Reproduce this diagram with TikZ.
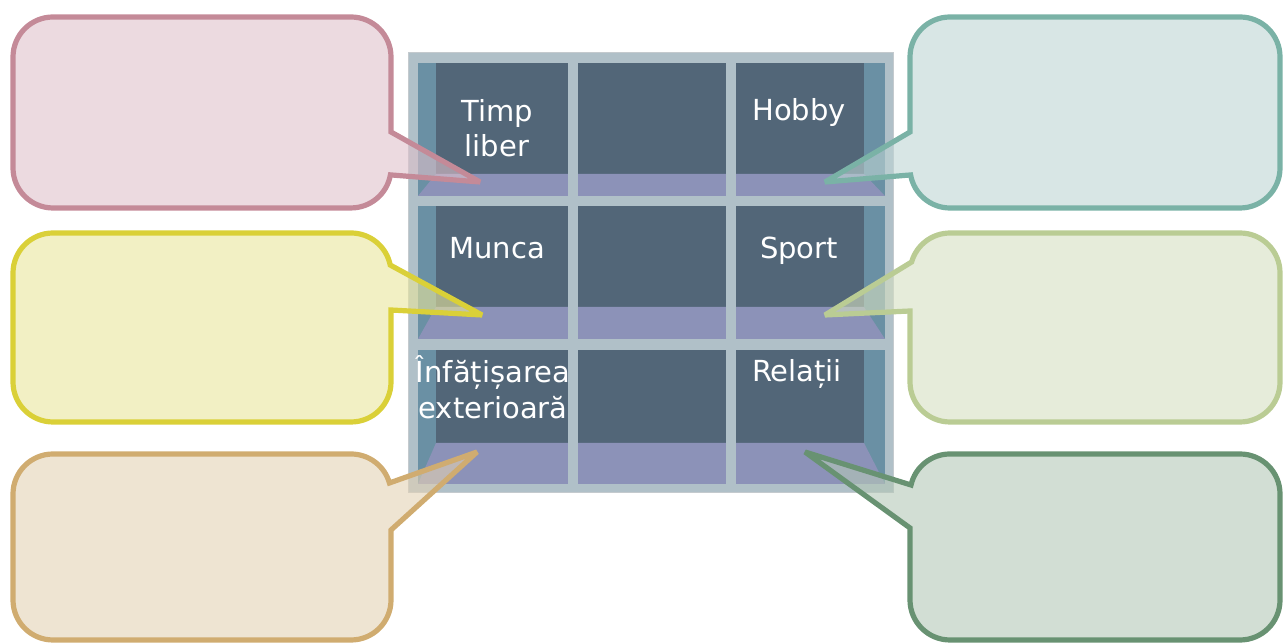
\documentclass[tikz,border=0pt]{standalone}
\usepackage{fontspec}
\setmainfont{DejaVu Sans}
\definecolor{frameC}{RGB}{176,192,200}
\definecolor{frameE}{RGB}{196,202,206}
\definecolor{sideC}{RGB}{106,144,164}
\definecolor{backC}{RGB}{82,102,120}
\definecolor{floorC}{RGB}{140,146,184}
\definecolor{pinkF}{RGB}{223,193,203}\definecolor{pinkS}{RGB}{196,138,152}
\definecolor{tealF}{RGB}{190,213,212}\definecolor{tealS}{RGB}{122,178,166}
\definecolor{yelF}{RGB}{233,230,157}\definecolor{yelS}{RGB}{218,208,56}
\definecolor{lgrF}{RGB}{213,223,193}\definecolor{lgrS}{RGB}{186,204,148}
\definecolor{tanF}{RGB}{227,210,180}\definecolor{tanS}{RGB}{208,172,112}
\definecolor{dgrF}{RGB}{180,200,183}\definecolor{dgrS}{RGB}{104,146,114}
\tikzset{
  bubble/.style 2 args={fill=#1, draw=#2, fill opacity=0.6, draw opacity=1, line width=5.2pt, miter limit=4},
  lbl/.style={text=white, font=\fontsize{29}{35}\selectfont, align=center, inner sep=0pt, anchor=base},
}
\begin{document}
\begin{tikzpicture}[x=1pt,y=1pt]
\useasboundingbox (0,0) rectangle (1284,644);
% shelf frame
\fill[frameC, draw=frameE, line width=1pt] (408,151) rectangle (893,591);
\foreach \yt/\yf/\yb in {581/470/448, 438/337/305, 294/201/160}{
  \fill[sideC] (418,\yt) rectangle (885,\yb);
  \fill[backC] (436,\yt) rectangle (864,\yf);
  \fill[floorC] (436,\yf) -- (864,\yf) -- (885,\yb) -- (418,\yb) -- cycle;
}
\fill[frameC] (568,160) rectangle (578,581);
\fill[frameC] (726,160) rectangle (736,581);
% labels
\node[lbl] (timp) at (497,522) {Timp};
\node[lbl] (liber) at (497,487) {liber};
\node[lbl] (hobby) at (799,523) {Hobby};
\node[lbl] (munca) at (497,385) {Munca};
\node[lbl] (sport) at (799,385) {Sport};
\node[lbl] (inf) at (493,261) {Înfățișarea};
\node[lbl] (ext) at (493,225) {exterioară};
\node[lbl] (rel) at (797,262) {Relații};
% callouts
\path[bubble={pinkF}{pinkS}] (53,627) -- (351,627) arc[start angle=90,end angle=0,radius=40pt]
  -- (391,512) -- (480,462) -- (390.4,469.1) arc[start angle=-10,end angle=-90,radius=40pt]
  -- (53,436) arc[start angle=270,end angle=180,radius=40pt] -- (13,587)
  arc[start angle=180,end angle=90,radius=40pt] -- cycle;
\path[bubble={tealF}{tealS}] (950,627) -- (1240,627) arc[start angle=90,end angle=0,radius=40pt]
  -- (1280,476) arc[start angle=0,end angle=-90,radius=40pt] -- (950,436)
  arc[start angle=270,end angle=190,radius=40pt] -- (825,462) -- (910,512) -- (910,587)
  arc[start angle=180,end angle=90,radius=40pt] -- cycle;
\path[bubble={yelF}{yelS}] (53,411) -- (351,411) arc[start angle=90,end angle=11.5,radius=40pt]
  -- (482,329) -- (391,334) -- (391,262) arc[start angle=0,end angle=-90,radius=40pt]
  -- (53,222) arc[start angle=270,end angle=180,radius=40pt] -- (13,371)
  arc[start angle=180,end angle=90,radius=40pt] -- cycle;
\path[bubble={lgrF}{lgrS}] (950,411) -- (1240,411) arc[start angle=90,end angle=0,radius=40pt]
  -- (1280,262) arc[start angle=0,end angle=-90,radius=40pt] -- (950,222)
  arc[start angle=270,end angle=180,radius=40pt] -- (910,333) -- (825,329) -- (911.6,382)
  arc[start angle=164,end angle=90,radius=40pt] -- cycle;
\path[bubble={tanF}{tanS}] (53,190) -- (351,190) arc[start angle=90,end angle=16,radius=40pt]
  -- (477,192) -- (391,114) -- (391,44) arc[start angle=0,end angle=-90,radius=40pt]
  -- (53,4) arc[start angle=270,end angle=180,radius=40pt] -- (13,150)
  arc[start angle=180,end angle=90,radius=40pt] -- cycle;
\path[bubble={dgrF}{dgrS}] (950,190) -- (1240,190) arc[start angle=90,end angle=0,radius=40pt]
  -- (1280,44) arc[start angle=0,end angle=-90,radius=40pt] -- (950,4)
  arc[start angle=270,end angle=180,radius=40pt] -- (910,116) -- (805,192) -- (911,159)
  arc[start angle=167,end angle=90,radius=40pt] -- cycle;
\end{tikzpicture}
\end{document}
